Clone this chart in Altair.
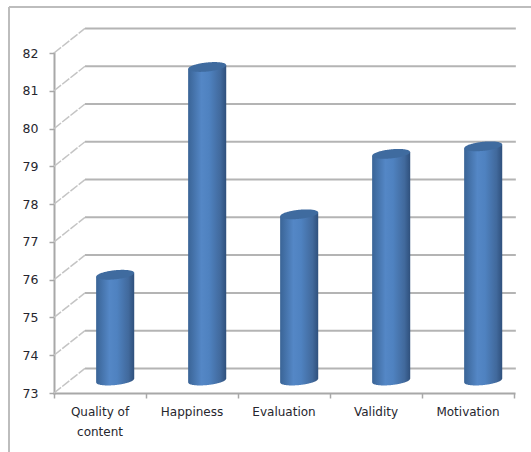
import altair as alt
import numpy as np
import pandas as pd

categories = ["Quality of\ncontent", "Happiness", "Evaluation", "Validity", "Motivation"]
values = [75.8, 81.3, 77.4, 79.0, 79.2]
y_ticks = list(range(73, 83))
x_ticks = [0, 1, 2, 3, 4, 5]

FONT = "DejaVu Sans"
GRID = "#b4b4b4"
WALL = "#c4c4c4"
AXIS = "#a8a8a8"

# Oblique projection of the chart box, in data units
DEPTH_X = 0.337
DEPTH_Y = 0.65
BAR_DX = 0.165
BAR_DY = 0.33
HALF_W = 0.207
CAP_RY = 0.12
CAP_TILT = 0.05

x_scale = alt.Scale(domain=[0, 5], nice=False, zero=False)
y_scale = alt.Scale(domain=[73, 82], nice=False, zero=False)

# Back wall and side wall lines
wall_rows = []
for v in y_ticks:
    wall_rows.append({"line": f"back{v}", "o": 0, "x": DEPTH_X, "y": v + DEPTH_Y, "kind": "back"})
    wall_rows.append({"line": f"back{v}", "o": 1, "x": 5.02, "y": v + DEPTH_Y, "kind": "back"})
    wall_rows.append({"line": f"side{v}", "o": 0, "x": 0, "y": v, "kind": "side"})
    wall_rows.append({"line": f"side{v}", "o": 1, "x": DEPTH_X, "y": v + DEPTH_Y, "kind": "side"})
walls = pd.DataFrame(wall_rows)

u = np.linspace(-1, 1, 61)
body_rows, cap_rows = [], []
for i, val in enumerate(values):
    cx = i + 0.5 + BAR_DX
    for t in u:
        arc = CAP_RY * np.sqrt(max(0.0, 1 - t * t))
        tilt = CAP_TILT * t
        upper = val + BAR_DY + tilt
        base = 73 + BAR_DY + tilt
        body_rows.append({"bar": i, "px": float(cx + HALF_W * t), "v0": float(upper), "v1": float(base - arc)})
        cap_rows.append({"bar": i, "px": float(cx + HALF_W * t), "v0": float(upper + arc), "v1": float(upper - arc)})
body = pd.DataFrame(body_rows)
caps = pd.DataFrame(cap_rows)

labels = pd.DataFrame({
    "cat": categories,
    "x": [i + 0.5 for i in range(len(categories))],
    "y": [73] * len(categories),
})


def X(field="x:Q"):
    return alt.X(field, scale=x_scale, title=None,
                 axis=alt.Axis(values=x_ticks, labels=False, grid=False, domainColor=AXIS,
                               domainWidth=2, tickColor=AXIS, tickWidth=1.5, tickSize=5))


def Y(field):
    return alt.Y(field, scale=y_scale, title=None,
                 axis=alt.Axis(values=y_ticks, grid=False, domainColor=AXIS, domainWidth=2,
                               tickColor=AXIS, tickWidth=1.5, tickSize=5, labelPadding=11,
                               labelFont=FONT, labelFontSize=12.5, labelColor="#26262e",
                               format="d"))


back = alt.Chart(walls[walls.kind == "back"]).mark_line(color=GRID, strokeWidth=2).encode(
    x=X(), y=Y("y:Q"), detail="line:N", order="o:Q")
side = alt.Chart(walls[walls.kind == "side"]).mark_line(
    color=WALL, strokeWidth=1.5, strokeDash=[9, 1.5]).encode(
    x=X(), y=Y("y:Q"), detail="line:N", order="o:Q")

cylinder_fill = alt.Gradient(
    gradient="linear", x1=0, x2=1, y1=0, y2=0,
    stops=[
        alt.GradientStop(offset=0, color="#3a6496"),
        alt.GradientStop(offset=0.35, color="#5487c6"),
        alt.GradientStop(offset=0.55, color="#4f82c0"),
        alt.GradientStop(offset=0.85, color="#41699c"),
        alt.GradientStop(offset=1, color="#2f507c"),
    ],
)
bars = alt.Chart(body).mark_area(color=cylinder_fill, orient="vertical").encode(
    x=X("px:Q"), y=Y("v0:Q"), y2=alt.Y2("v1"), detail="bar:N")
tops = alt.Chart(caps).mark_area(color="#3f6b9f", orient="vertical").encode(
    x=X("px:Q"), y=Y("v0:Q"), y2=alt.Y2("v1"), detail="bar:N")

names = alt.Chart(labels).mark_text(
    font=FONT, fontSize=12, color="#26262e", lineBreak="\n", lineHeight=20,
    baseline="top", dy=14, align="center").encode(
    x=X(), y=Y("y:Q"), text="cat:N")

frame_left = alt.Chart(pd.DataFrame({"a": [0]})).mark_rule(color="#bdbdbd", strokeWidth=2).encode(
    x=alt.value(-45), y=alt.value(-46), y2=alt.value(399))
frame_top = alt.Chart(pd.DataFrame({"a": [0]})).mark_rule(color="#bdbdbd", strokeWidth=2).encode(
    x=alt.value(-45), x2=alt.value(477), y=alt.value(-46))

chart = alt.layer(back, side, bars, tops, names, frame_left, frame_top).properties(
    width=460, height=340,
    padding={"left": 54, "top": 53, "right": 17, "bottom": 59},
    autosize=alt.AutoSizeParams(type="none"),
    background="white",
).configure_view(stroke=None).configure_axis(domainCap="square")

chart.save("out.html", embed_options={"renderer": "svg", "actions": False})
